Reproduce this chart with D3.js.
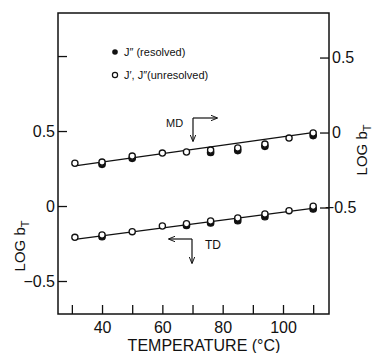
<!DOCTYPE html>
<meta charset="utf-8">
<style>
body { margin: 0; background: #fff; }
svg text { font-family: "Liberation Sans Narrow", "Liberation Sans", Arial, sans-serif; fill: #111; }
.axis path { display: none; }
.axis line { stroke: #111; stroke-width: 1.3px; }
</style>
<body>
<script src="https://cdn.jsdelivr.net/npm/d3@7"></script>
<script>

var width = 372, height = 353;

// temperatures (deg C) of the measured points
var temps = [31, 40, 50, 60, 68, 76, 85, 94, 102, 110];
// MD, read on the right axis
var mdOpen = [-0.205, -0.197, -0.157, -0.137, -0.13, -0.117, -0.103, -0.077, -0.037, -0.003];
var mdFilledTemps = [40, 50, 76, 85, 94, 110];
var mdFilled = [-0.212, -0.172, -0.133, -0.12, -0.092, -0.02];
// TD, read on the left axis
var tdOpen = [-0.209, -0.193, -0.171, -0.133, -0.118, -0.1, -0.08, -0.053, -0.031, -0.002];
var tdFilledTemps = [40, 68, 76, 85, 94, 110];
var tdFilled = [-0.205, -0.13, -0.113, -0.098, -0.071, -0.02];
// fitted lines, end points
var lineTemps = [31, 111];
var mdLine = [-0.223, 0.002];
var tdLine = [-0.222, -0.012];

var xTicks = [30, 40, 50, 60, 70, 80, 90, 100, 110];
var leftTicks = [1.0, 0.5, 0, -0.5];
var rightTicks = [0.5, 0, -0.5];

var svg = d3.select("body").append("svg")
    .attr("width", width)
    .attr("height", height);

var x = d3.scaleLinear().domain([25.4, 115.25]).range([58, 329]);
var yL = d3.scaleLinear().domain([-0.72, 1.287]).range([314, 13]);
var yR = d3.scaleLinear().domain([-0.72 - 0.49, 1.287 - 0.49]).range([314, 13]);

var fmt = d3.format("");

svg.append("g").attr("class", "axis")
    .attr("transform", "translate(58,0)")
    .call(d3.axisLeft(yL).tickValues(leftTicks).tickSize(-9).tickPadding(3)
      .tickFormat(function(d) { return d === 1 ? "" : fmt(d); }))
    .selectAll("text").style("font-size", "16px");

svg.append("g").attr("class", "axis")
    .attr("transform", "translate(329,0)")
    .call(d3.axisRight(yR).tickValues(rightTicks).tickSize(-9).tickPadding(3).tickFormat(fmt))
    .selectAll("text").style("font-size", "16px")
    .attr("dx", function(d) { return d < 0 ? "-0.45em" : 0; });

svg.append("g").attr("class", "axis")
    .attr("transform", "translate(0,314)")
    .call(d3.axisBottom(x).tickValues(xTicks).tickSize(-9).tickPadding(8)
      .tickFormat(function(d) { return d % 20 === 0 ? d : ""; }))
    .selectAll("text").style("font-size", "16px");

// frame
svg.append("rect")
    .attr("x", 58).attr("y", 13)
    .attr("width", 271).attr("height", 301)
    .attr("fill", "none").attr("stroke", "#111").attr("stroke-width", 1.5);

// axis titles
svg.append("text")
    .attr("x", 204).attr("y", 351)
    .attr("text-anchor", "middle")
    .style("font-size", "16px")
    .text("TEMPERATURE (°C)");

function yTitle(tx, ty) {
  var t = svg.append("text")
      .attr("transform", "translate(" + tx + "," + ty + ") rotate(-90)")
      .attr("text-anchor", "middle")
      .style("font-size", "15px");
  t.append("tspan").text("LOG b");
  t.append("tspan").attr("dy", 4).style("font-size", "11px").text("T");
}
yTitle(25, 246);
yTitle(367, 150);

// fitted lines
var line = d3.line()
    .x(function(d) { return x(d[0]); })
    .y(function(d) { return d[1]; });

svg.append("path")
    .datum(lineTemps.map(function(t, i) { return [t, yR(mdLine[i])]; }))
    .attr("d", line).attr("fill", "none").attr("stroke", "#111").attr("stroke-width", 1.3);
svg.append("path")
    .datum(lineTemps.map(function(t, i) { return [t, yL(tdLine[i])]; }))
    .attr("d", line).attr("fill", "none").attr("stroke", "#111").attr("stroke-width", 1.3);

// points: filled first, open circles on top
function dots(ts, vs, scale, filled) {
  svg.append("g").selectAll("circle")
    .data(ts)
    .enter().append("circle")
      .attr("cx", function(d) { return x(d); })
      .attr("cy", function(d, i) { return scale(vs[i]); })
      .attr("r", filled ? 3.2 : 3.1)
      .attr("fill", filled ? "#111" : "#fff")
      .attr("stroke", "#111")
      .attr("stroke-width", 1.3);
}
dots(mdFilledTemps, mdFilled, yR, true);
dots(tdFilledTemps, tdFilled, yL, true);
dots(temps, mdOpen, yR, false);
dots(temps, tdOpen, yL, false);

// legend
svg.append("circle").attr("cx", 115).attr("cy", 52).attr("r", 2.8).attr("fill", "#111");
svg.append("circle").attr("cx", 115).attr("cy", 75).attr("r", 2.6)
    .attr("fill", "#fff").attr("stroke", "#111").attr("stroke-width", 1.2);
svg.append("text").attr("x", 124).attr("y", 56).style("font-size", "11px").text("J\u2033 (resolved)");
svg.append("text").attr("x", 124).attr("y", 79).style("font-size", "11px").text("J\u2032, J\u2033(unresolved)");

// arrow markers
svg.append("defs").append("marker")
    .attr("id", "head")
    .attr("viewBox", "0 0 10 10")
    .attr("refX", 9).attr("refY", 5)
    .attr("markerWidth", 7).attr("markerHeight", 7)
    .attr("markerUnits", "userSpaceOnUse")
    .attr("orient", "auto")
  .append("path")
    .attr("d", "M0,1 L10,5 L0,9")
    .attr("fill", "none").attr("stroke", "#111").attr("stroke-width", 1.4);

// MD: right axis, TD: left axis
svg.append("text").attr("x", 166).attr("y", 127).style("font-size", "11px").text("MD");
svg.append("path").attr("d", "M193,118 L193,141").attr("stroke", "#111").attr("fill", "none")
    .attr("stroke-width", 1.2).attr("marker-end", "url(#head)");
svg.append("path").attr("d", "M193,118 L217,118").attr("stroke", "#111").attr("fill", "none")
    .attr("stroke-width", 1.2).attr("marker-end", "url(#head)");

svg.append("text").attr("x", 205).attr("y", 249).style("font-size", "12px").text("TD");
svg.append("path").attr("d", "M192,239 L192,263").attr("stroke", "#111").attr("fill", "none")
    .attr("stroke-width", 1.2).attr("marker-end", "url(#head)");
svg.append("path").attr("d", "M192,239 L169,239").attr("stroke", "#111").attr("fill", "none")
    .attr("stroke-width", 1.2).attr("marker-end", "url(#head)");

</script>
</body>
</html>
